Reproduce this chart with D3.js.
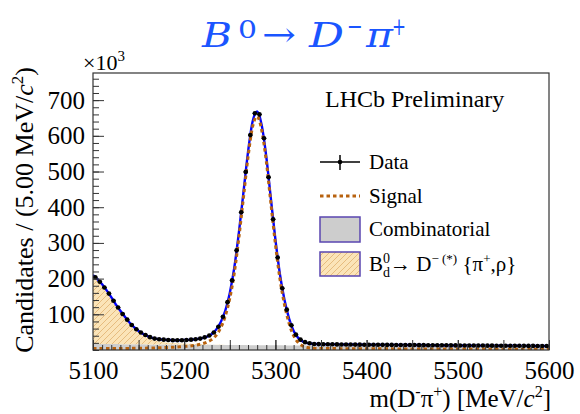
<!DOCTYPE html>
<html><head><meta charset="utf-8">
<script src="https://cdn.jsdelivr.net/npm/d3@7"></script>
<style>html,body{margin:0;padding:0;background:#fff;}svg{display:block;}
.serif{font-family:'Liberation Serif','Times New Roman',serif;}
</style>
</head><body>
<svg id="chart" width="580" height="414"></svg>
<script>
// ---- data (values in units of 10^3 candidates) ----
const binCenters = [5102.5,5107.5,5112.5,5117.5,5122.5,5127.5,5132.5,5137.5,5142.5,5147.5,
5152.5,5157.5,5162.5,5167.5,5172.5,5177.5,5182.5,5187.5,5192.5,5197.5,
5202.5,5207.5,5212.5,5217.5,5222.5,5227.5,5232.5,5237.5,5242.5,5247.5,
5252.5,5257.5,5262.5,5267.5,5272.5,5277.5,5282.5,5287.5,5292.5,5297.5,
5302.5,5307.5,5312.5,5317.5,5322.5,5327.5,5332.5,5337.5,5342.5,5347.5,
5352.5,5357.5,5362.5,5367.5,5372.5,5377.5,5382.5,5387.5,5392.5,5397.5,
5402.5,5407.5,5412.5,5417.5,5422.5,5427.5,5432.5,5437.5,5442.5,5447.5,
5452.5,5457.5,5462.5,5467.5,5472.5,5477.5,5482.5,5487.5,5492.5,5497.5,
5502.5,5507.5,5512.5,5517.5,5522.5,5527.5,5532.5,5537.5,5542.5,5547.5,
5552.5,5557.5,5562.5,5567.5,5572.5,5577.5,5582.5,5587.5,5592.5,5597.5];
const dataCounts = [204,191,175,158,138,119,101,85,70,58,
49,42,36,32,30,29,28,27.5,27.5,27.5,
28,29,30,32,35.5,40.5,49,65,93,134,
195,279,386,499,602,663,660,593,484,366,
259,173,113,69,43,29,22,19,17,16.5,
16.2,16.0,15.9,15.7,15.6,15.4,15.2,15.1,15.0,14.8,
14.8,14.6,14.6,14.4,14.3,14.3,14.1,14.0,13.9,13.9,
13.8,13.6,13.6,13.5,13.4,13.3,13.2,13.1,13.0,12.9,
12.8,12.8,12.6,12.5,12.5,12.4,12.2,12.2,12.1,12.0,
11.9,11.9,11.8,11.7,11.6,11.5,11.5,11.4,11.3,11.2];

const fitMass = [5100,5105,5110,5115,5120,5125,5130,5135,5140,5145,5150,5155,5160,5165,5170,5175,5180,5185,5190,5195,
5200,5205,5210,5215,5220,5225,5230,5235,5240,5245,5250,5255,5260,5265,5270,5275,5280,5285,5290,5295,
5300,5305,5310,5315,5320,5325,5330,5335,5340,5345,5350,5375,5400,5425,5450,5475,5500,5525,5550,5575,5600];
const fitTotal = [210,198,184,167,148,128,110,93,77,64,53,45,39,34,31,29.5,28.5,28,27.5,27.5,
28,28.5,29.5,31,33.5,37.5,44,57,78,110,160,232,330,442,555,640,668,630,542,425,
310,212,140,88,53,34,24,19.5,17.5,16.7,16.2,15.6,14.9,14.3,13.8,13.3,12.8,12.3,11.9,11.5,11.1];
const fitSignal = [4,4,4,4,4,4,4,4.5,4.5,5,5,5,5.5,5.5,6,6.5,7,7.5,8,9,
10,11,12.5,14.5,17.5,22,29,41,62,95,145,217,316,428,541,626,654,616,529,412,
297,199,127,75,40,21,11.5,7,5,4.4,4,3.8,3.5,3.2,3.0,2.8,2.7,2.5,2.4,2.2,2.1];
const fitComb = [17.0,16.9,16.8,16.7,16.6,16.5,16.4,16.3,16.2,16.0,15.9,15.8,15.7,15.6,15.5,15.4,15.3,15.2,15.1,15.0,
14.9,14.8,14.7,14.6,14.5,14.5,14.4,14.3,14.2,14.1,14.0,13.9,13.8,13.7,13.6,13.5,13.4,13.3,13.2,13.2,
13.1,13.0,12.9,12.8,12.7,12.6,12.5,12.5,12.4,12.3,12.2,11.9,11.5,11.2,10.8,10.5,10.1,9.8,9.5,9.3,9.0];
const fitPartReco = [189,177,163,146,127,107.5,89.6,72,56,43,32,24,18,13,9.5,7.5,6,5.3,4.4,3.5,
3.1,2.7,2.3,1.9,1.5,1.0,0.6,0.4,0.2,0.1,0,0,0,0,0,0,0,0,0,0,
0,0,0,0,0,0,0,0,0,0,0,0,0,0,0,0,0,0,0,0,0];

const xTickLabels = [5100,5200,5300,5400,5500,5600];
const yTickLabels = [100,200,300,400,500,600,700];
const legendLabels = ["Data","Signal","Combinatorial","B_d"];

// ---- layout ----
const L = 93, R = 549, T = 73, B = 350;
const svg = d3.select("#chart");
const x = d3.scaleLinear().domain([5100,5600]).range([L,R]);
const y = d3.scaleLinear().domain([0,776]).range([B,T]);
const serif = "'Liberation Serif','Times New Roman',serif";

const defs = svg.append("defs");
defs.append("clipPath").attr("id","clip").append("rect")
  .attr("x",L).attr("y",T).attr("width",R-L).attr("height",B-T);
const pat = defs.append("pattern").attr("id","hatch").attr("patternUnits","userSpaceOnUse")
  .attr("width",6).attr("height",6);
pat.append("rect").attr("width",6).attr("height",6).attr("fill","#fbe4b8");
pat.append("path").attr("d","M0,6 L6,0 M-1,1 L1,-1 M5,7 L7,5")
  .attr("stroke","#dcaa66").attr("stroke-width",0.7);

const fitRows = fitMass.map((m,i)=>({m, comb:fitComb[i], prc:fitPartReco[i]}));
const layers = d3.stack().keys(["comb","prc"])(fitRows);

const g = svg.append("g").attr("clip-path","url(#clip)");
const area = d3.area().x((d,i)=>x(fitMass[i])).y0(d=>y(d[0])).y1(d=>y(d[1])).curve(d3.curveMonotoneX);
g.append("path").datum(layers[0]).attr("d",area).attr("fill","#cdcdcd");
g.append("path").datum(layers[1]).attr("d",area).attr("fill","url(#hatch)");

const line = d3.line().curve(d3.curveMonotoneX);
g.append("path").attr("d",line(fitMass.map((m,i)=>[x(m),y(fitTotal[i])])))
  .attr("fill","none").attr("stroke","#0000ff").attr("stroke-width",2.4);
g.append("path").attr("d",line(fitMass.map((m,i)=>[x(m),y(fitSignal[i])])))
  .attr("fill","none").attr("stroke","#b8620f").attr("stroke-width",3).attr("stroke-dasharray","3.5,3");

const pts = g.append("g");
binCenters.forEach((c,i)=>{
  pts.append("line").attr("x1",x(c-2.5)).attr("x2",x(c+2.5)).attr("y1",y(dataCounts[i])).attr("y2",y(dataCounts[i]))
    .attr("stroke","#000").attr("stroke-width",1.2);
  pts.append("circle").attr("cx",x(c)).attr("cy",y(dataCounts[i])).attr("r",2.3).attr("fill","#000");
});

// ---- axes ----
function styleAxis(ga){
  ga.attr("font-family",null).attr("font-size",null);
  ga.select(".domain").remove();
  ga.selectAll("line").attr("stroke","#333").attr("stroke-width",1);
  ga.selectAll("text").filter(function(){return this.textContent==="";}).remove();
  ga.selectAll("text").attr("class","serif").style("font-family",serif).style("font-size","25px").attr("fill","#000");
}
const xMinor = d3.axisBottom(x).tickValues(d3.range(5100,5601,10)).tickSizeInner(-5).tickSizeOuter(0).tickFormat("");
const xMid = d3.axisBottom(x).tickValues(d3.range(5100,5601,50)).tickSizeInner(-10).tickSizeOuter(0).tickFormat("");
const xMajor = d3.axisBottom(x).tickValues(xTickLabels).tickSizeInner(-10).tickSizeOuter(0).tickPadding(11).tickFormat(d3.format("d"));
[xMinor,xMid,xMajor].forEach(a=>{
  styleAxis(svg.append("g").attr("transform",`translate(0,${B})`).call(a));
});
const yMinor = d3.axisLeft(y).tickValues(d3.range(0,776,20)).tickSizeInner(-6).tickSizeOuter(0).tickFormat("");
const yMajor = d3.axisLeft(y).tickValues(yTickLabels).tickSizeInner(-11).tickSizeOuter(0).tickPadding(8).tickFormat(d3.format("d"));
[yMinor,yMajor].forEach(a=>{
  styleAxis(svg.append("g").attr("transform",`translate(${L},0)`).call(a));
});

svg.append("rect").attr("x",L).attr("y",T).attr("width",R-L).attr("height",B-T)
  .attr("fill","none").attr("stroke","#333").attr("stroke-width",1.2);

// ×10^3
const e3 = svg.append("text").attr("x",83).attr("y",70).style("font-family",serif).style("font-size","22px");
e3.append("tspan").text("×10");
e3.append("tspan").attr("dy",-9).style("font-size","15px").text("3");

// y label
const yl = svg.append("text").attr("transform","translate(33,67) rotate(-90)")
  .attr("text-anchor","end").style("font-family",serif).style("font-size","26px");
yl.append("tspan").text("Candidates / (5.00 MeV/");
yl.append("tspan").attr("font-style","italic").text("c");
yl.append("tspan").attr("dy",-10).style("font-size","17px").text("2");
yl.append("tspan").attr("dy",10).text(")");

// x label
const xl = svg.append("text").attr("x",551).attr("y",407).attr("text-anchor","end")
  .style("font-family",serif).style("font-size","25px");
xl.append("tspan").text("m(D");
xl.append("tspan").attr("dy",-10).style("font-size","16px").text("-");
xl.append("tspan").attr("dy",10).text("π");
xl.append("tspan").attr("dy",-10).style("font-size","16px").text("+");
xl.append("tspan").attr("dy",10).text(") [MeV/");
xl.append("tspan").attr("font-style","italic").text("c");
xl.append("tspan").attr("dy",-10).style("font-size","16px").text("2");
xl.append("tspan").attr("dy",10).text("]");

// title
const blue = "#1a55ff", tf = "'DejaVu Serif',serif";
const title = svg.append("g").attr("fill",blue).style("font-family",tf);
const tt = (xx,yy,fs,it,txt,len)=>{
  const t = title.append("text").attr("x",xx).attr("y",yy).style("font-size",fs+"px").text(txt);
  if(it) t.attr("font-style","italic");
  if(len) t.attr("textLength",len).attr("lengthAdjust","spacingAndGlyphs");
  return t;
};
tt(202,47,34,true,"B",30);
tt(238,38,25,false,"0",19);
tt(262,46,34,false,"→",34);
tt(309,47,34,true,"D",35);
tt(347,35,25,false,"−",16);
tt(366,47,34,true,"π",27);
tt(392,35,25,false,"+",14);

// LHCb Preliminary
svg.append("text").attr("x",325).attr("y",107).style("font-family",serif).style("font-size","24px").text("LHCb Preliminary");

// legend
const lg = svg.append("g");
const sx0 = 320, sx1 = 360, tx = 369;
const rowsY = [162, 196, 229, 264];
lg.append("line").attr("x1",sx0).attr("x2",sx1).attr("y1",rowsY[0]).attr("y2",rowsY[0]).attr("stroke","#000").attr("stroke-width",1.5);
lg.append("line").attr("x1",340).attr("x2",340).attr("y1",rowsY[0]-7).attr("y2",rowsY[0]+8).attr("stroke","#000").attr("stroke-width",1.5);
lg.append("circle").attr("cx",340).attr("cy",rowsY[0]).attr("r",2.3).attr("fill","#000");
lg.append("line").attr("x1",sx0).attr("x2",sx1).attr("y1",rowsY[1]).attr("y2",rowsY[1])
  .attr("stroke","#b8620f").attr("stroke-width",3).attr("stroke-dasharray","3.5,3");
lg.append("rect").attr("x",sx0).attr("y",rowsY[2]-12).attr("width",40).attr("height",25)
  .attr("fill","#cdcdcd").attr("stroke","#5a46b0").attr("stroke-width",1.5);
lg.append("rect").attr("x",sx0).attr("y",rowsY[3]-12).attr("width",40).attr("height",24)
  .attr("fill","url(#hatch)").attr("stroke","#5a46b0").attr("stroke-width",1.5);
const lt = (i)=>lg.append("text").attr("x",tx).attr("y",rowsY[i]+7).style("font-family",serif).style("font-size","21px");
lt(0).text(legendLabels[0]);
lt(1).text(legendLabels[1]);
lt(2).text(legendLabels[2]);
const t3 = lt(3);
t3.append("tspan").text("B");
t3.append("tspan").attr("dy",-8).style("font-size","14px").text("0");
t3.append("tspan").attr("dx",-7).attr("dy",14).style("font-size","14px").text("d");
t3.append("tspan").attr("dy",-6).text("→ D");
t3.append("tspan").attr("dy",-8).style("font-size","13px").text("− (*)");
t3.append("tspan").attr("dy",8).text(" {π");
t3.append("tspan").attr("dy",-8).style("font-size","13px").text("+");
t3.append("tspan").attr("dy",8).text(",ρ}");
</script>
</body></html>
